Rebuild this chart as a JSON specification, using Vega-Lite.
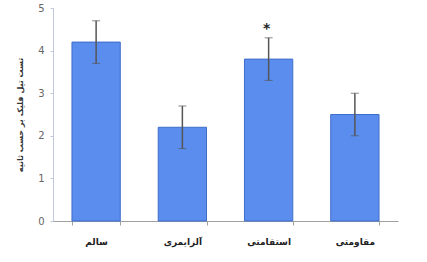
{
  "$schema": "https://vega.github.io/schema/vega-lite/v6.json",
  "autosize": {"type": "none"},
  "width": 345,
  "height": 213,
  "padding": {"left": 53, "top": 8, "right": 29, "bottom": 41},
  "background": "white",
  "config": {"view": {"stroke": null}, "font": "DejaVu Sans"},
  "data": {"values": [
    {"group": "سالم", "mean": 4.2, "lower": 3.7, "upper": 4.7, "sig": ""},
    {"group": "آلزایمری", "mean": 2.2, "lower": 1.7, "upper": 2.7, "sig": ""},
    {"group": "استقامتی", "mean": 3.8, "lower": 3.3, "upper": 4.3, "sig": "*"},
    {"group": "مقاومتی", "mean": 2.5, "lower": 2.0, "upper": 3.0, "sig": ""}
  ]},
  "encoding": {
    "x": {"field": "group", "type": "nominal", "sort": null,
      "scale": {"paddingInner": 0.44, "paddingOuter": 0.22},
      "axis": {"title": null, "labelAngle": 0, "labelFontWeight": "bold", "labelFontSize": 9, "labelColor": "#222", "labelPadding": 12, "domainColor": "#a0a0a0", "tickColor": "#a0a0a0", "tickBand": "extent", "tickSize": 4}}
  },
  "layer": [
    {
      "mark": {"type": "bar", "color": "#5b8def", "stroke": "#3f6cc9", "strokeWidth": 1},
      "encoding": {
        "y": {"field": "mean", "type": "quantitative", "title": "تست تیل فلیک بر حسب ثانیه",
          "scale": {"domain": [0, 5]},
          "axis": {"values": [0, 1, 2, 3, 4, 5], "titleFontSize": 8, "titleFontWeight": "bold", "titleColor": "#333", "titlePadding": 13, "labelColor": "#666", "labelFontSize": 10, "labelPadding": 6, "grid": false, "domainColor": "#c0c8dc", "tickColor": "#c0c8dc", "tickSize": 3}}
      }
    },
    {
      "mark": {"type": "errorbar", "ticks": {"size": 8, "color": "#555"}, "rule": {"color": "#555", "strokeWidth": 1.5}},
      "encoding": {
        "y": {"field": "lower", "type": "quantitative", "title": "تست تیل فلیک بر حسب ثانیه"},
        "y2": {"field": "upper"}
      }
    },
    {
      "mark": {"type": "text", "dy": -9, "dx": -2, "fontSize": 14, "fontWeight": "bold", "color": "#222"},
      "encoding": {
        "y": {"field": "upper", "type": "quantitative", "title": "تست تیل فلیک بر حسب ثانیه"},
        "text": {"field": "sig"}
      }
    }
  ]
}
